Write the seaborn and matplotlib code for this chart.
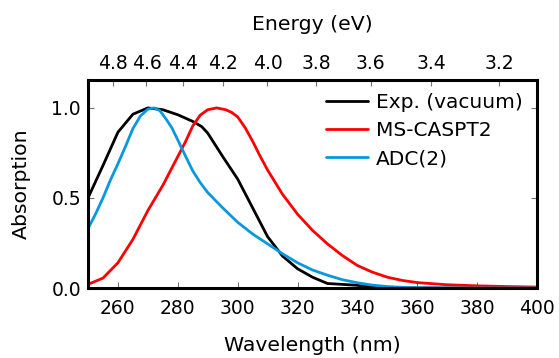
import numpy as np
import pandas as pd
import matplotlib
matplotlib.use("Agg")
import matplotlib.pyplot as plt
import seaborn as sns

# ---- data ----
wl_exp = [250, 255, 260, 265, 270, 275, 280, 285, 288, 290, 295, 300, 305, 310,
          315, 320, 325, 330, 335, 340, 345, 350, 400]
abs_exp = [0.50, 0.68, 0.865, 0.965, 1.0, 0.99, 0.962, 0.925, 0.896, 0.86, 0.73, 0.605,
           0.445, 0.285, 0.177, 0.107, 0.06, 0.025, 0.02, 0.015, 0.004, 0.0, 0.0]

wl_caspt2 = [250, 255, 260, 265, 270, 275, 280, 282.5, 285, 287.5, 290, 293, 296, 298,
             300, 302.5, 305, 307.5, 310, 315, 320, 325, 330, 335, 340, 345, 350, 355,
             360, 370, 380, 390, 400]
abs_caspt2 = [0.02, 0.055, 0.14, 0.27, 0.43, 0.57, 0.73, 0.81, 0.90, 0.96, 0.99, 1.0,
              0.99, 0.975, 0.95, 0.89, 0.815, 0.732, 0.655, 0.52, 0.41, 0.32, 0.245,
              0.18, 0.125, 0.088, 0.06, 0.042, 0.03, 0.018, 0.012, 0.008, 0.005]

wl_adc2 = [250, 252.5, 255, 257.5, 260, 262.5, 265, 267.5, 270, 272, 274, 276, 278,
           280, 282.5, 285, 287.5, 290, 295, 300, 305, 310, 315, 320, 325, 330, 335,
           340, 345, 350, 355, 360, 370, 400]
abs_adc2 = [0.33, 0.41, 0.50, 0.60, 0.69, 0.785, 0.885, 0.955, 0.993, 1.0, 0.985, 0.94,
            0.89, 0.822, 0.735, 0.65, 0.585, 0.53, 0.445, 0.365, 0.30, 0.245, 0.19,
            0.14, 0.10, 0.071, 0.046, 0.029, 0.016, 0.008, 0.004, 0.002, 0.0, 0.0]

series_names = ["Exp. (vacuum)", "MS-CASPT2", "ADC(2)"]
series_colors = ["black", "#ff0000", "#0898de"]

energy_ticks = [4.8, 4.6, 4.4, 4.2, 4.0, 3.8, 3.6, 3.4, 3.2]
x_ticks = [260, 280, 300, 320, 340, 360, 380, 400]
y_ticks = [0.0, 0.5, 1.0]

df = pd.concat([
    pd.DataFrame({"wl": wl_exp, "abs": abs_exp, "series": series_names[0]}),
    pd.DataFrame({"wl": wl_caspt2, "abs": abs_caspt2, "series": series_names[1]}),
    pd.DataFrame({"wl": wl_adc2, "abs": abs_adc2, "series": series_names[2]}),
])

sns.set_style("white")
plt.rcParams["font.family"] = ["DejaVu Sans"]
plt.rcParams["text.color"] = "black"
plt.rcParams["axes.labelcolor"] = "black"

TICK_FS = 13.5
LABEL_FS = 14.7
LEG_FS = 14.5

fig = plt.figure(figsize=(5.59, 3.58), dpi=100)
ax = fig.add_axes([88 / 559, 1 - 288 / 358, (537 - 88) / 559, (288 - 80) / 358])

sns.lineplot(data=df, x="wl", y="abs", hue="series", hue_order=series_names,
             palette=series_colors, linewidth=2.0, ax=ax, sort=False,
             estimator=None)

ax.set_xlim(250, 400)
ax.set_ylim(0, 1.155)
ax.set_xticks(x_ticks)
ax.set_yticks(y_ticks)
ax.set_yticklabels([f"{v:.1f}" for v in y_ticks])

for s in ax.spines.values():
    s.set_visible(True)
    s.set_linewidth(2.2)
    s.set_color("black")

ax.tick_params(axis="both", direction="in", length=4, width=0.8, color="0.45",
               labelcolor="black", labelsize=TICK_FS)
ax.tick_params(axis="x", bottom=True, top=False, pad=8)
ax.tick_params(axis="y", right=True, left=True, pad=5)
ax.set_xlabel("Wavelength (nm)", fontsize=LABEL_FS, labelpad=13, color="black")
ax.set_ylabel("Absorption", fontsize=LABEL_FS, labelpad=15, color="black")

HC = 1239.84
def nm2ev(x):
    x = np.asarray(x, dtype=float)
    with np.errstate(divide="ignore"):
        return HC / x
def ev2nm(e):
    e = np.asarray(e, dtype=float)
    with np.errstate(divide="ignore"):
        return HC / e

sec = ax.secondary_xaxis("top", functions=(nm2ev, ev2nm))
sec.set_xticks(energy_ticks)
sec.set_xticklabels([f"{e:.1f}" for e in energy_ticks])
sec.tick_params(direction="in", length=4, width=0.8, color="0.45",
                labelcolor="black", labelsize=TICK_FS, pad=5)
sec.spines["top"].set_visible(False)
sec.set_xlabel("Energy (eV)", fontsize=LABEL_FS, labelpad=17, color="black")

leg = ax.legend(loc="upper right", bbox_to_anchor=((523 - 88) / 449, (288 - 93) / 208),
                frameon=False, fontsize=LEG_FS, handlelength=2.05,
                handletextpad=0.43, labelspacing=0.45, borderpad=0, borderaxespad=0)
for t in leg.get_texts():
    t.set_color("black")

fig.savefig("out.png", dpi=100)
